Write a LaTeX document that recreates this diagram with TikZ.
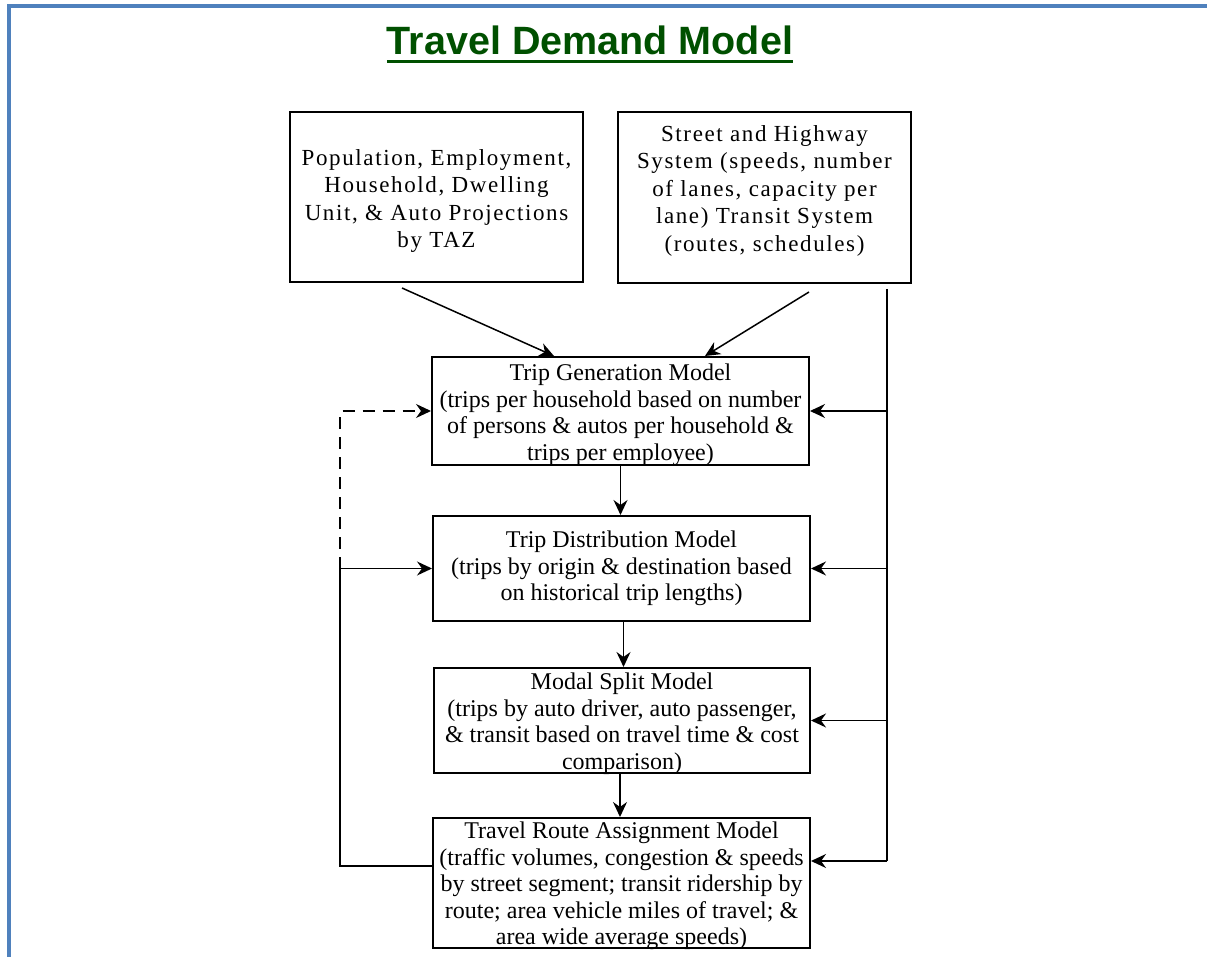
\documentclass[tikz,border=0pt]{standalone}
\usepackage{fontspec}
\setmainfont{Liberation Serif}
\newfontfamily\topfont{Liberation Serif}[LetterSpace=7]
\newfontfamily\titlefont{Liberation Sans}
\usetikzlibrary{arrows.meta,calc}
\definecolor{titlegreen}{RGB}{0,80,0}
\definecolor{frameblue}{RGB}{79,129,189}
\begin{document}
\begin{tikzpicture}[x=1pt,y=-1pt,
  box/.style={draw=black, line width=2pt, inner sep=0pt, fill=white},
  txt/.style={inner sep=0pt, align=center},
  toptxt/.style={txt, font=\topfont\fontsize{23}{27.5}\selectfont},
  modeltxt/.style={txt, font=\fontsize{24}{26.5}\selectfont},
  link/.style={line width=1.5pt, draw=black},
  arr/.style={link, -{Stealth[length=15pt,width=14pt,inset=5pt]}},
  dashlink/.style={arr, dash pattern=on 12pt off 8pt}
]
\useasboundingbox (0,0) rectangle (1207,957);
\fill[white] (0,0) rectangle (1207,957);
% frame
\draw[frameblue, line width=4pt, line join=miter] (9,957) -- (9,6) -- (1207,6);
% title
\node[anchor=base, inner sep=0pt, text=titlegreen,
      font=\titlefont\bfseries\fontsize{39.5}{40}\selectfont] (title) at (590,55) {Travel Demand Model};
\draw[titlegreen, line width=3pt] ($(title.base west)+(0,7)$) -- ($(title.base east)+(0,7)$);
% boxes
\node[box, minimum width=293pt, minimum height=170pt] (A) at (436.5,197) {};
\node[box, minimum width=293pt, minimum height=171pt] (B) at (764.5,197.5) {};
\node[box, minimum width=377pt, minimum height=108pt] (C) at (620.5,411) {};
\node[box, minimum width=377pt, minimum height=105pt] (D) at (621.5,568.5) {};
\node[box, minimum width=376pt, minimum height=105pt] (E) at (622,720.5) {};
\node[box, minimum width=377pt, minimum height=130pt] (F) at (621.5,883) {};
% box texts
\node[toptxt, yshift=-4pt] (At) at (A.center)
  {Population, Employment,\\Household, Dwelling\\Unit, \& Auto Projections\\by TAZ};
\node[toptxt, yshift=7pt] (Bt) at (B.center)
  {Street and Highway\\System (speeds, number\\of lanes, capacity per\\lane) Transit System\\(routes, schedules)};
\node[modeltxt, yshift=-4pt] (Ct) at (C.center)
  {Trip Generation Model\\(trips per household based on number\\of persons \& autos per household \&\\trips per employee)};
\node[modeltxt] (Dt) at (D.center)
  {Trip Distribution Model\\(trips by origin \& destination based\\on historical trip lengths)};
\node[modeltxt, yshift=-3pt] (Et) at (E.center)
  {Modal Split Model\\(trips by auto driver, auto passenger,\\\& transit based on travel time \& cost\\comparison)};
\node[modeltxt, yshift=-3pt] (Ft) at (F.center)
  {Travel Route Assignment Model\\(traffic volumes, congestion \& speeds\\by street segment; transit ridership by\\route; area vehicle miles of travel; \&\\area wide average speeds)};
% inputs to trip generation
\draw[arr] ($(A.south west)+(113,5)$) -- ($(C.north west)+(123,0)$);
\draw[arr] ($(B.south west)+(192,8)$) -- ($(C.north west)+(274,0)$);
% main chain
\coordinate (dOut) at ($(D.south)+(2,0)$);
\coordinate (eOut) at ($(E.south)+(-2,0)$);
\draw[arr] (C.south) -- (C.south |- D.north);
\draw[arr] (dOut) -- (dOut |- E.north);
\draw[arr] (eOut) -- (eOut |- F.north);
% right-hand supply bus
\coordinate (rtop) at ($(B.south east)+(-25,5)$);
\coordinate (fR) at ($(F.east)+(0,-22)$);
\draw[link] (rtop) -- (rtop |- fR);
\draw[arr] (rtop |- C.east) -- (C.east);
\draw[arr] (rtop |- D.east) -- (D.east);
\draw[arr] (rtop |- E.east) -- (E.east);
\draw[arr] (rtop |- fR) -- (fR);
% left-hand feedback
\coordinate (lbus) at (340,600);
\coordinate (fL) at ($(F.west)+(0,-17)$);
\draw[arr] (fL) -| (lbus |- D.west) -- (D.west);
\draw[dashlink] (lbus |- D.west) |- (C.west);
\end{tikzpicture}
\end{document}
